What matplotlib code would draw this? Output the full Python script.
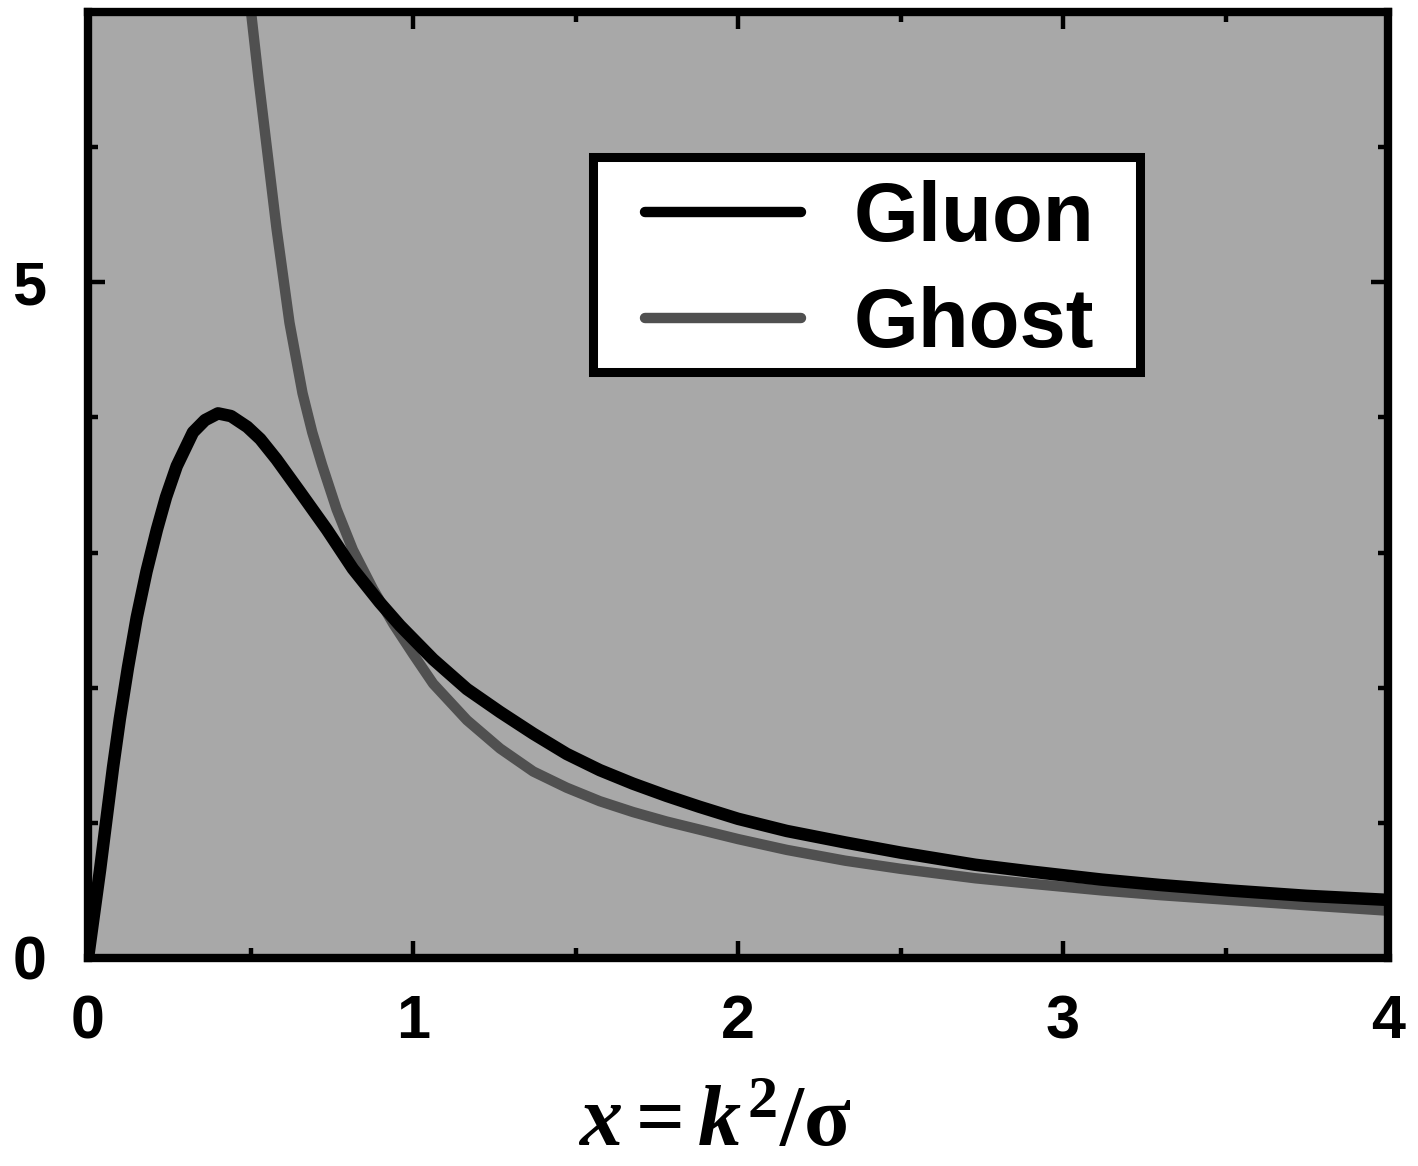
import matplotlib
matplotlib.use("Agg")
import matplotlib.pyplot as plt
from matplotlib.ticker import MultipleLocator, FixedLocator
from matplotlib.patches import Rectangle

# ---- data ----
gluon_x = [0.0, 0.037, 0.058, 0.077, 0.098, 0.123, 0.15, 0.18, 0.212, 0.24,
           0.273, 0.323, 0.36, 0.40, 0.44, 0.49, 0.53, 0.58, 0.652, 0.735,
           0.815, 0.898, 0.96, 1.062, 1.166, 1.268, 1.37, 1.473, 1.575, 1.677,
           1.78, 1.88, 2.0, 2.15, 2.33, 2.5, 2.73, 2.9, 3.12, 3.3, 3.51, 3.75, 4.0]
gluon_y = [0.0, 0.65, 1.05, 1.41, 1.77, 2.15, 2.52, 2.86, 3.17, 3.41,
           3.64, 3.89, 3.98, 4.03, 4.01, 3.93, 3.84, 3.69, 3.45, 3.17,
           2.88, 2.63, 2.46, 2.21, 1.99, 1.82, 1.66, 1.51, 1.39, 1.29,
           1.20, 1.12, 1.03, 0.94, 0.855, 0.78, 0.69, 0.64, 0.58, 0.54, 0.50, 0.46, 0.43]

ghost_x = [0.497, 0.525, 0.55, 0.58, 0.62, 0.66, 0.69, 0.72, 0.765, 0.815,
           0.877, 0.94, 1.0, 1.062, 1.166, 1.268, 1.37, 1.473, 1.575, 1.677,
           1.78, 2.0, 2.15, 2.33, 2.5, 2.73, 2.9, 3.12, 3.3, 3.51, 3.75, 4.0]
ghost_y = [7.1, 6.5, 6.0, 5.40, 4.70, 4.18, 3.89, 3.65, 3.32, 3.02,
           2.73, 2.47, 2.25, 2.03, 1.76, 1.55, 1.38, 1.26, 1.16, 1.08,
           1.01, 0.88, 0.80, 0.72, 0.66, 0.59, 0.55, 0.50, 0.465, 0.43, 0.39, 0.35]

series_labels = ["Gluon", "Ghost"]
x_ticks = [0, 1, 2, 3, 4]
y_ticks = [0, 5]
x_label = r"$x = k^{2}/\mathrm{\sigma}$"

# ---- styling ----
plt.rcParams["mathtext.fontset"] = "custom"
plt.rcParams["mathtext.it"] = "Liberation Serif:italic:bold"
plt.rcParams["mathtext.rm"] = "Liberation Serif:bold"
plt.rcParams["mathtext.bf"] = "Liberation Serif:bold"

fig = plt.figure(figsize=(14.18, 11.66), dpi=100)
ax = fig.add_axes([88 / 1418, 208 / 1166, 1300 / 1418, 946 / 1166])
ax.set_facecolor("#a8a8a8")

ax.plot(gluon_x, gluon_y, color="black", lw=9, solid_capstyle="round",
        solid_joinstyle="round", label=series_labels[0], zorder=3)
ax.plot(ghost_x, ghost_y, color="#505050", lw=7.5, solid_capstyle="round",
        solid_joinstyle="round", label=series_labels[1], zorder=2)

ax.set_xlim(0, 4)
ax.set_ylim(0, 7)

ax.xaxis.set_major_locator(FixedLocator(x_ticks))
ax.xaxis.set_minor_locator(MultipleLocator(0.5))
ax.yaxis.set_major_locator(FixedLocator(y_ticks))
ax.yaxis.set_minor_locator(MultipleLocator(1))

for s in ax.spines.values():
    s.set_linewidth(6)
    s.set_color("black")

ax.tick_params(which="both", direction="in", top=True, right=True, color="black")
ax.tick_params(which="major", length=12, width=3.2, pad=26)
ax.tick_params(which="minor", length=7, width=3.2)
ax.tick_params(axis="y", pad=30)

for lab in ax.get_xticklabels() + ax.get_yticklabels():
    lab.set_fontfamily("Liberation Sans")
    lab.set_fontweight("bold")
    lab.set_fontsize(44)

# legend frame (decoration) drawn separately, legend content without its own frame
ax.add_patch(Rectangle((0.3885, 0.6195), 0.4207, 0.2272, transform=ax.transAxes,
                       facecolor="white", edgecolor="black", lw=6.5, zorder=5,
                       clip_on=False))
leg = ax.legend(loc="upper left", bbox_to_anchor=(0.4285, 0.822),
                prop={"family": "Liberation Sans", "weight": "bold", "size": 60},
                frameon=False, handlelength=1.87, handletextpad=0.63,
                labelspacing=0.33, borderpad=0.0, borderaxespad=0.0)
leg.set_zorder(6)
for h in leg.get_lines():
    h.set_linewidth(7.5)

fig.text(715 / 1418, 20 / 1166, x_label, ha="center", va="baseline",
         fontsize=62, color="black")

fig.savefig("out.png", dpi=100, facecolor="white")
